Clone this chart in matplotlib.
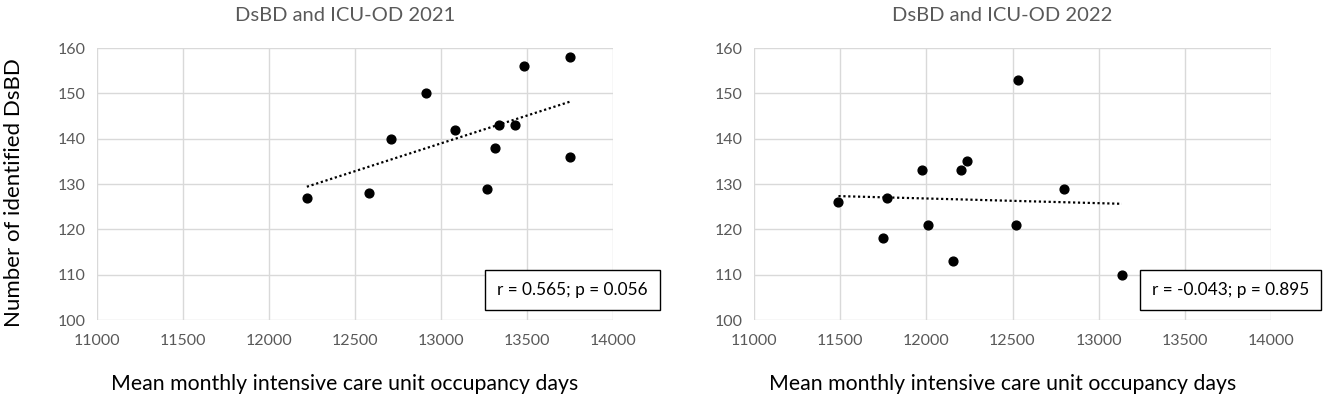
import numpy as np
import matplotlib.pyplot as plt

plt.rcParams['font.family'] = ['Lato', 'DejaVu Sans']

# 2021: mean monthly ICU occupancy days vs identified DsBD
x_2021 = [12220, 12580, 12710, 12910, 13080, 13270, 13315, 13335, 13430, 13480, 13750, 13750]
y_2021 = [127, 128, 140, 150, 142, 129, 138, 143, 143, 156, 158, 136]

# 2022
x_2022 = [11490, 11750, 11770, 11975, 12010, 12155, 12200, 12235, 12520, 12530, 12800, 13135]
y_2022 = [126, 118, 127, 133, 121, 113, 133, 135, 121, 153, 129, 110]

titles = ["DsBD and ICU-OD 2021", "DsBD and ICU-OD 2022"]
stats = ["r = 0.565; p = 0.056", "r = -0.043; p = 0.895"]
x_ticks = [11000, 11500, 12000, 12500, 13000, 13500, 14000]
y_ticks = [100, 110, 120, 130, 140, 150, 160]

fig = plt.figure(figsize=(13.25, 4.01), dpi=100)
ax1 = fig.add_axes([97 / 1325, 1 - 320 / 401, 516 / 1325, 272 / 401])
ax2 = fig.add_axes([754 / 1325, 1 - 320 / 401, 517 / 1325, 272 / 401])

grey = "#595959"
for ax, xs, ys, title, stat in [(ax1, x_2021, y_2021, titles[0], stats[0]),
                                (ax2, x_2022, y_2022, titles[1], stats[1])]:
    ax.set_xlim(11000, 14000)
    ax.set_ylim(100, 160)
    ax.set_xticks(x_ticks)
    ax.set_yticks(y_ticks)
    ax.grid(True, color="#d9d9d9", linewidth=1)
    ax.set_axisbelow(True)
    for s in ax.spines.values():
        s.set_visible(False)
    ax.tick_params(length=0, labelsize=11.5, labelcolor=grey)
    ax.tick_params(axis="x", pad=10)
    ax.tick_params(axis="y", pad=8)

    ax.scatter(xs, ys, s=40, color="black", zorder=3)

    # linear trendline
    k, b = np.polyfit(xs, ys, 1)
    xl = np.array([min(xs), max(xs)])
    ax.plot(xl, k * xl + b, color="black", linestyle=(0, (1, 1.2)), linewidth=1.6, zorder=2)

    ax.text(0.48, 1.121, title, transform=ax.transAxes, ha="center", va="center",
            fontsize=14.5, color=grey)
    ax.text(0.48, -0.235, "Mean monthly intensive care unit occupancy days",
            transform=ax.transAxes, ha="center", va="center", fontsize=15.3)

    ax.text(0.922, 0.11, stat, transform=ax.transAxes, ha="center", va="center",
            fontsize=12.4, zorder=5, clip_on=False,
            bbox=dict(boxstyle="square,pad=0.7", facecolor="white", edgecolor="black", linewidth=1))

fig.text(14 / 1325, 1 - 193 / 401, "Number of identified DsBD", rotation=90,
         ha="center", va="center", fontsize=16)

fig.savefig("out.png", dpi=100)
